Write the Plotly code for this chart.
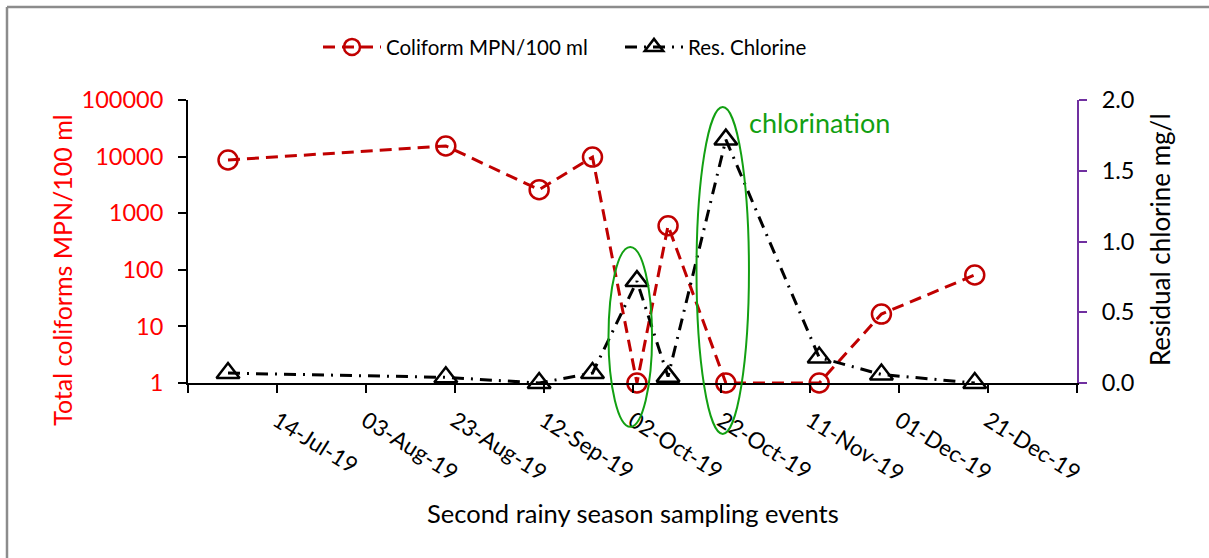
import plotly.graph_objects as go

# ---- data ----
sample_dates = ['2019-07-03', '2019-08-21', '2019-09-11', '2019-09-23', '2019-10-03',
                '2019-10-10', '2019-10-23', '2019-11-13', '2019-11-27', '2019-12-18']
coliform_mpn = [8700, 15400, 2600, 9800, 1, 600, 1, 1, 16.5, 81]
res_chlorine = [0.07, 0.04, 0.0, 0.07, 0.72, 0.045, 1.72, 0.18, 0.06, 0.0]

tick_dates = ['2019-06-24', '2019-07-14', '2019-08-03', '2019-08-23', '2019-09-12', '2019-10-02',
              '2019-10-22', '2019-11-11', '2019-12-01', '2019-12-21', '2020-01-10']
tick_labels = ['', '14-Jul-19', '03-Aug-19', '23-Aug-19', '12-Sep-19', '02-Oct-19',
               '22-Oct-19', '11-Nov-19', '01-Dec-19', '21-Dec-19', '']
left_ticks = [1, 10, 100, 1000, 10000, 100000]
left_tick_labels = ['1', '10', '100', '1000', '10000', '100000']
right_ticks = [0, 0.5, 1.0, 1.5, 2.0]

FONT = 'Lato'
RED = '#FF0000'
DARKRED = '#C00000'
PURPLE = '#7030A0'
GREEN = '#12A012'

fig = go.Figure()
fig.add_trace(go.Scatter(
    x=sample_dates, y=coliform_mpn, name='Coliform MPN/100 ml',
    mode='lines+markers', cliponaxis=False, legend='legend',
    line=dict(color=DARKRED, width=3, dash='12px,7px'),
    marker=dict(symbol='circle-open', size=19, color=DARKRED, line=dict(width=2.5, color=DARKRED)),
    yaxis='y'))
fig.add_trace(go.Scatter(
    x=sample_dates, y=res_chlorine, name='Res. Chlorine',
    mode='lines+markers', cliponaxis=False, legend='legend2',
    line=dict(color='black', width=3, dash='12px,7px,2px,7px'),
    marker=dict(symbol='triangle-up-open', size=20, color='black', line=dict(width=2.5, color='black')),
    yaxis='y2'))

legend_common = dict(orientation='h', y=1.187, xanchor='left', yanchor='middle',
                     font=dict(size=20.5, color='black'), itemwidth=58,
                     bgcolor='rgba(0,0,0,0)', borderwidth=0)

fig.update_layout(
    width=1209, height=558,
    margin=dict(l=188, r=132, t=100, b=175, autoexpand=False),
    paper_bgcolor='white', plot_bgcolor='white',
    font=dict(family=FONT, size=22, color='black'),
    showlegend=True,
    legend=dict(x=(318 - 188) / 889, **legend_common),
    legend2=dict(x=(620 - 188) / 889, **legend_common),
    xaxis=dict(
        type='date', range=[tick_dates[0], tick_dates[-1]],
        tickmode='array', tickvals=tick_dates, ticktext=tick_labels,
        tickangle=32, ticks='outside', ticklen=8, tickwidth=1.5, tickcolor='black',
        showline=True, linecolor='black', linewidth=2, showgrid=False, zeroline=False,
        tickfont=dict(size=22.5, color='black'), ticklabelstandoff=6),
    yaxis=dict(
        type='log', range=[0, 5], tickmode='array', tickvals=left_ticks, ticktext=left_tick_labels,
        ticks='outside', ticklen=8, tickwidth=1.5, tickcolor='black',
        showline=True, linecolor='black', linewidth=2, showgrid=False, zeroline=False,
        tickfont=dict(size=23.5, color=RED), ticklabelstandoff=10),
    yaxis2=dict(
        overlaying='y', side='right', range=[0, 2], tickmode='array', tickvals=right_ticks,
        tickformat='.1f', ticks='outside', ticklen=8, tickwidth=1.5, tickcolor=PURPLE,
        showline=True, linecolor=PURPLE, linewidth=2, showgrid=False, zeroline=False,
        tickfont=dict(size=23.5, color='black'), ticklabelstandoff=10),
)

# axis titles
fig.add_annotation(text='Total coliforms MPN/100 ml', xref='paper', yref='paper',
                   x=-0.1417, y=0.40, textangle=-90, showarrow=False,
                   font=dict(size=25, color=RED), xanchor='center', yanchor='middle')
fig.add_annotation(text='Residual chlorine mg/l', xref='paper', yref='paper',
                   x=1.0934, y=0.505, textangle=-90, showarrow=False,
                   font=dict(size=26, color='black'), xanchor='center', yanchor='middle')
fig.add_annotation(text='Second rainy season sampling events', xref='paper', yref='paper',
                   x=0.5, y=-0.459, showarrow=False,
                   font=dict(size=25.5, color='black'), xanchor='center', yanchor='middle')
fig.add_annotation(text='chlorination', xref='paper', yref='paper',
                   x=(747 - 188) / 889, y=0.919, showarrow=False, xanchor='left', yanchor='middle',
                   font=dict(size=27, color=GREEN))

# chlorination ellipses
fig.add_shape(type='circle', xref='paper', yref='paper', x0=0.473, x1=0.522, y0=-0.155, y1=0.481,
              line=dict(color=GREEN, width=2))
fig.add_shape(type='circle', xref='paper', yref='paper', x0=0.572, x1=0.631, y0=-0.18, y1=0.975,
              line=dict(color=GREEN, width=2))

# chart frame (top and left edges visible)
fig.add_shape(type='line', xref='paper', yref='paper', x0=-0.2036, x1=1.2, y0=1.3286, y1=1.3286,
              line=dict(color='#8C8C8C', width=2.5))
fig.add_shape(type='line', xref='paper', yref='paper', x0=-0.2036, x1=-0.2036, y0=1.3286, y1=-0.62,
              line=dict(color='#8C8C8C', width=2.5))

fig.write_html('out.html')
